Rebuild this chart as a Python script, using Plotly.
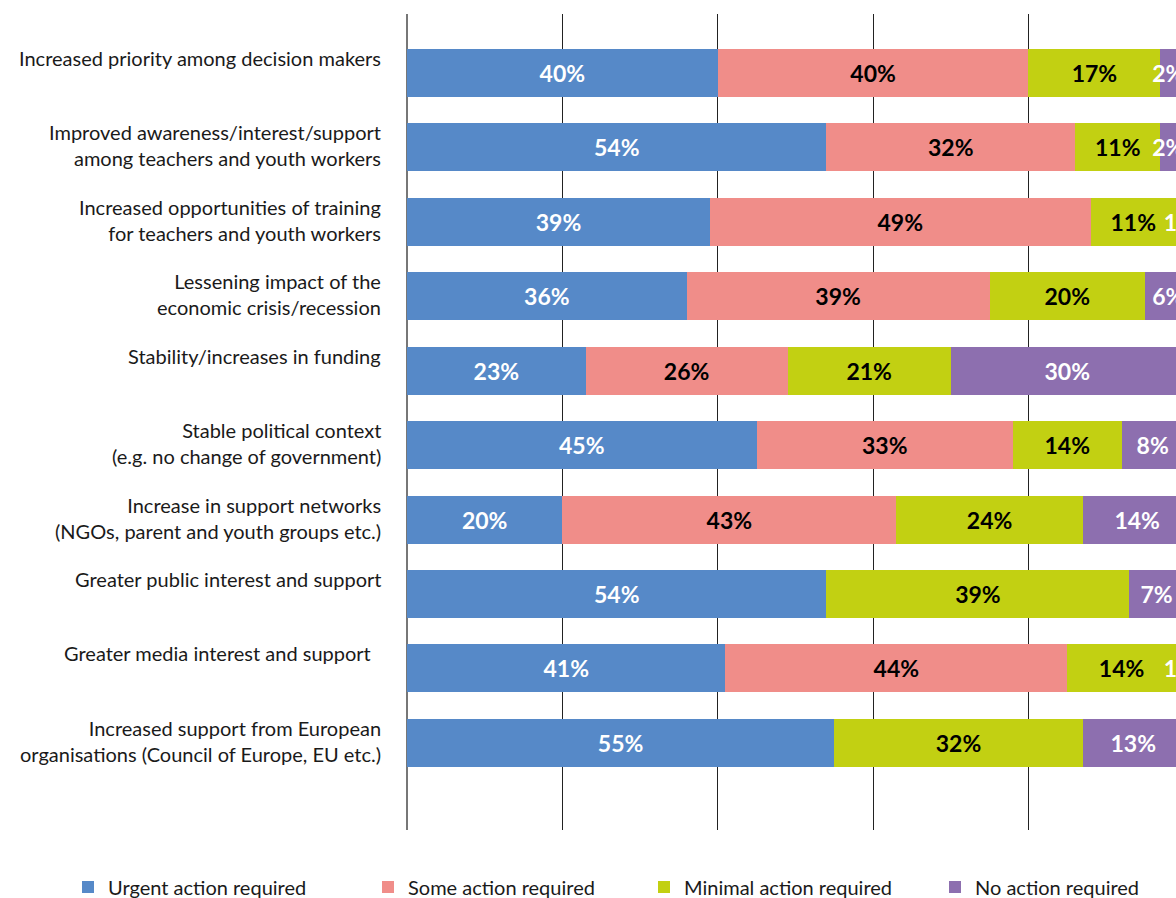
import plotly.graph_objects as go

categories = [
    "Increased priority among decision makers",
    "Improved awareness/interest/support<br>among teachers and youth workers",
    "Increased opportunities of training<br>for teachers and youth workers",
    "Lessening impact of the<br>economic crisis/recession",
    "Stability/increases in funding",
    "Stable political context<br>(e.g. no change of government)",
    "Increase in support networks<br>(NGOs, parent and youth groups etc.)",
    "Greater public interest and support",
    "Greater media interest and support\u00a0\u00a0",
    "Increased support from European<br>organisations (Council of Europe, EU etc.)",
]

urgent = [40, 54, 39, 36, 23, 45, 20, 54, 41, 55]
some = [40, 32, 49, 39, 26, 33, 43, None, 44, None]
minimal = [17, 11, 11, 20, 21, 14, 24, 39, 14, 32]
no_action = [2, 2, 1, 6, 30, 8, 14, 7, 1, 13]

series_names = ["Urgent action required", "Some action required",
                "Minimal action required", "No action required"]
series_values = [urgent, some, minimal, no_action]
colors = ["#5689C8", "#F08D89", "#C2D012", "#8D6FAF"]
text_colors = ["white", "black", "black", "white"]
legend_ids = ["legend", "legend2", "legend3", "legend4"]
legend_x_px = [68, 368, 644, 935]

ids = list(range(len(categories)))

fig = go.Figure()
for name, vals, col, tcol, lg in zip(series_names, series_values, colors, text_colors, legend_ids):
    fig.add_trace(go.Bar(
        y=ids, x=vals, name=name, orientation="h",
        marker=dict(color=col, line=dict(width=0)),
        width=0.645,
        text=[f"{v}%" if v else "" for v in vals],
        textposition="inside", insidetextanchor="middle",
        textangle=0, constraintext="none",
        insidetextfont=dict(family="Lato", size=23, color=tcol, weight="bold"),
        hoverinfo="skip",
        legend=lg,
    ))

for i, lab in enumerate(categories):
    fig.add_annotation(
        x=0, xref="paper", xanchor="right", xshift=-24,
        y=i, yref="y", yanchor="top", yshift=29,
        text=lab, showarrow=False, align="right",
        font=dict(family="Lato", size=20, color="#1a1a1a"),
    )

legend_style = dict(orientation="h", xref="container", xanchor="left",
                    yref="container", y=1 - 887 / 898, yanchor="middle",
                    font=dict(family="Lato", size=20, color="#1a1a1a"),
                    bgcolor="rgba(0,0,0,0)", itemclick=False, itemdoubleclick=False)

fig.update_layout(
    width=1176, height=898,
    margin=dict(l=407, r=0, t=14, b=68),
    barmode="stack",
    plot_bgcolor="white", paper_bgcolor="white",
    showlegend=True,
    xaxis=dict(range=[0, 99], tickvals=[0, 20, 40, 60, 80], showticklabels=False,
               showgrid=True, gridcolor="#222", gridwidth=1,
               zeroline=True, zerolinecolor="#777", zerolinewidth=2),
    yaxis=dict(range=[10.17, -0.79], showticklabels=False, showgrid=False,
               zeroline=False, tickmode="array", tickvals=ids),
)
for lg, xp in zip(legend_ids, legend_x_px):
    fig.update_layout({lg: dict(legend_style, x=xp / 1176)})

fig.write_html("out.html", config={"displayModeBar": False},
               post_script="document.body.style.margin='0';document.body.style.overflow='hidden';")
